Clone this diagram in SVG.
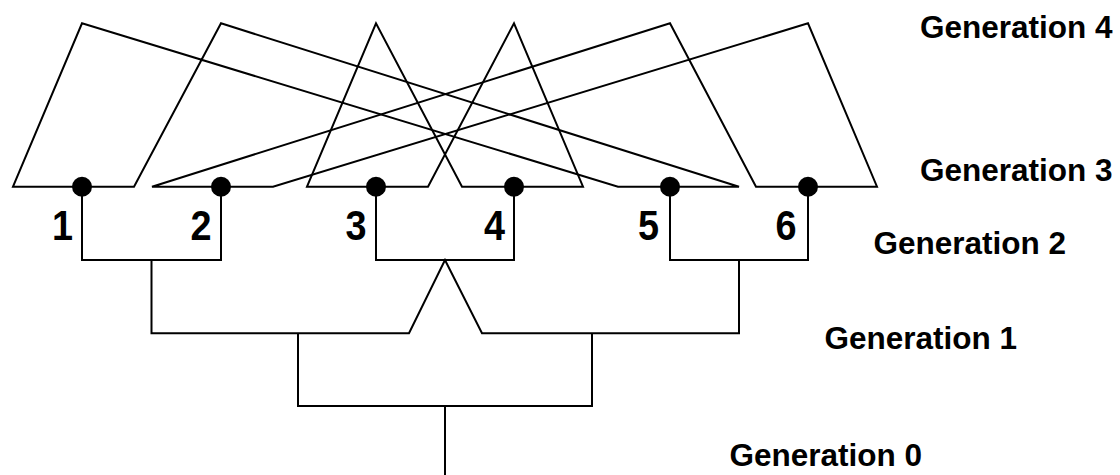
<svg xmlns="http://www.w3.org/2000/svg" width="1120" height="475" viewBox="0 0 1120 475">
  <style>
    .ln { fill: none; stroke: #000; stroke-width: 2; stroke-linejoin: miter; }
    .dot { fill: #000; }
    .num { font-family: "Liberation Sans", Arial, sans-serif; font-weight: bold; font-size: 42px; fill: #000; text-anchor: end; }
    .gen { font-family: "Liberation Sans", Arial, sans-serif; font-weight: bold; font-size: 31.5px; fill: #000; }
  </style>

  <!-- connectors: generation 4 parents down to generation 3, then the ancestry tree down to generation 0 -->
  <g id="connectors">
    <!-- parents at x=82 and x=221 shared by individuals 1 and 5 -->
    <polygon class="ln" points="13,186.7 82,23.3 618,186.7 739,186.7 221,23.3 134,186.7"/>
    <!-- parents at x=376 and x=514 shared by individuals 3 and 4 -->
    <polygon class="ln" points="307,186.7 376,23.3 462,186.7 583,186.7 514,23.3 428,186.7"/>
    <!-- parents at x=670 and x=808 shared by individuals 2 and 6 -->
    <polygon class="ln" points="152,186.7 670,23.3 756,186.7 877,186.7 808,23.3 273,186.7"/>

    <!-- generation 3 pairs joined into generation 2 -->
    <path class="ln" d="M82,186.7 V260 H221 V186.7"/>
    <path class="ln" d="M376,186.7 V260 H514 V186.7"/>
    <path class="ln" d="M670,186.7 V260 H808 V186.7"/>

    <!-- generation 2 into generation 1 -->
    <path class="ln" d="M151.5,260 V333.3 H409 L445,260 L482,333.3 H739 V260"/>

    <!-- generation 1 into generation 0 -->
    <path class="ln" d="M298,333.3 V406 H592 V333.3"/>
    <path class="ln" d="M445,406 V476"/>
  </g>

  <g id="node-1">
    <circle class="dot" cx="82" cy="186.7" r="10"/>
    <text class="num" transform="translate(73,240) scale(0.9,1)">1</text>
  </g>
  <g id="node-2">
    <circle class="dot" cx="221" cy="186.7" r="10"/>
    <text class="num" transform="translate(211.5,240) scale(0.9,1)">2</text>
  </g>
  <g id="node-3">
    <circle class="dot" cx="376" cy="186.7" r="10"/>
    <text class="num" transform="translate(366.5,240) scale(0.9,1)">3</text>
  </g>
  <g id="node-4">
    <circle class="dot" cx="514" cy="186.7" r="10"/>
    <text class="num" transform="translate(505,240) scale(0.9,1)">4</text>
  </g>
  <g id="node-5">
    <circle class="dot" cx="670" cy="186.7" r="10"/>
    <text class="num" transform="translate(659,240) scale(0.9,1)">5</text>
  </g>
  <g id="node-6">
    <circle class="dot" cx="808" cy="186.7" r="10"/>
    <text class="num" transform="translate(796.5,240) scale(0.9,1)">6</text>
  </g>

  <g id="generation-labels">
    <text class="gen" x="920" y="38">Generation 4</text>
    <text class="gen" x="920" y="181">Generation 3</text>
    <text class="gen" x="873.5" y="254">Generation 2</text>
    <text class="gen" x="824.5" y="349">Generation 1</text>
    <text class="gen" x="729.5" y="466">Generation 0</text>
  </g>
</svg>
